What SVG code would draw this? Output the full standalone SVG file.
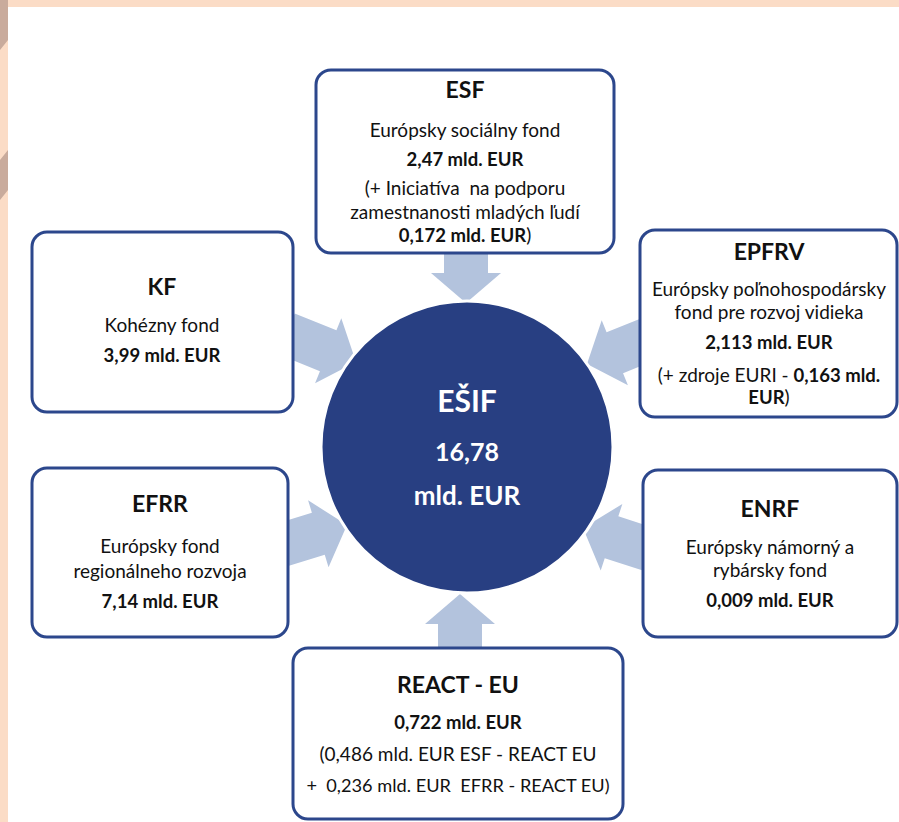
<svg xmlns="http://www.w3.org/2000/svg" width="899" height="822" viewBox="0 0 899 822">
<defs>
<style>
.box{fill:#ffffff;stroke:#2c478c;stroke-width:3}
.arr{fill:#b3c3dd}
text{font-family:Lato,"Liberation Sans",sans-serif;fill:#111111;text-anchor:middle}
.t{font-size:23px;font-weight:bold}
.b{font-size:19px}
.bb{font-size:18.5px;font-weight:bold}
.w{fill:#ffffff;font-weight:bold}
.pre{white-space:pre}
</style>
<polygon id="arrow" points="-75,-22 -30,-22 -30,-35 0,0 -30,35 -30,22 -75,22"/>
</defs>
<rect x="0" y="0" width="899" height="822" fill="#fbdcc6"/>
<path d="M0 0 L8 0 L8 40 L0 50 Z M0 160 L8 150 L8 190 L0 200 Z" fill="#c9ab9c"/>
<rect x="8" y="7" width="891" height="815" fill="#ffffff"/>
<g id="connectors">
<use href="#arrow" class="arr" transform="translate(466,303) rotate(90)"/>
<use href="#arrow" class="arr" transform="translate(460,594) rotate(-90)"/>
<use href="#arrow" class="arr" transform="translate(356,362) rotate(22)"/>
<use href="#arrow" class="arr" transform="translate(587,364) rotate(158)"/>
<use href="#arrow" class="arr" transform="translate(347,525) rotate(-17)"/>
<use href="#arrow" class="arr" transform="translate(583,528) rotate(198)"/>
</g>
<g id="esif">
<circle cx="467" cy="447" r="146" fill="#283f82" stroke="#ffffff" stroke-width="3"/>
<text x="467" y="412" class="w" style="font-size:30px">EŠIF</text>
<text x="467" y="461" class="w" style="font-size:25px">16,78</text>
<text x="467" y="505" class="w" style="font-size:26px">mld. EUR</text>
</g>
<g id="esf">
<rect x="316" y="70" width="298" height="183" rx="15" class="box"/>
<text x="465" y="98" class="t">ESF</text>
<text x="465" y="137" class="b">Európsky sociálny fond</text>
<text x="465" y="166" class="bb">2,47 mld. EUR</text>
<text x="465" y="195" class="b pre">(+ Iniciatíva  na podporu</text>
<text x="465" y="219" class="b">zamestnanosti mladých ľudí</text>
<text x="465" y="242" class="b"><tspan font-weight="bold" font-size="18.5">0,172 mld. EUR</tspan>)</text>
</g>
<g id="kf">
<rect x="32" y="232" width="261" height="180" rx="15" class="box"/>
<text x="162" y="295" class="t">KF</text>
<text x="162" y="332" class="b">Kohézny fond</text>
<text x="162" y="362" class="bb">3,99 mld. EUR</text>
</g>
<g id="epfrv">
<rect x="640" y="230" width="257" height="187" rx="15" class="box"/>
<text x="769" y="260" class="t">EPFRV</text>
<text x="769" y="296" class="b">Európsky poľnohospodársky</text>
<text x="769" y="319" class="b">fond pre rozvoj vidieka</text>
<text x="769" y="349" class="bb">2,113 mld. EUR</text>
<text x="769" y="382" class="b">(+ zdroje EURI - <tspan font-weight="bold" font-size="18.5">0,163 mld.</tspan></text>
<text x="769" y="404" class="b"><tspan font-weight="bold" font-size="18.5">EUR</tspan>)</text>
</g>
<g id="efrr">
<rect x="32" y="468" width="256" height="169" rx="15" class="box"/>
<text x="160" y="512" class="t">EFRR</text>
<text x="160" y="553" class="b">Európsky fond</text>
<text x="160" y="578" class="b">regionálneho rozvoja</text>
<text x="160" y="608" class="bb">7,14 mld. EUR</text>
</g>
<g id="enrf">
<rect x="643" y="470" width="254" height="167" rx="15" class="box"/>
<text x="770" y="517" class="t">ENRF</text>
<text x="770" y="554" class="b">Európsky námorný a</text>
<text x="770" y="577" class="b">rybársky fond</text>
<text x="770" y="607" class="bb">0,009 mld. EUR</text>
</g>
<g id="react">
<rect x="293" y="648" width="330" height="171" rx="15" class="box"/>
<text x="458" y="693" class="t">REACT - EU</text>
<text x="458" y="729" class="bb">0,722 mld. EUR</text>
<text x="458" y="761" class="b">(0,486 mld. EUR ESF - REACT EU</text>
<text x="458" y="792" class="b pre" style="font-size:18.2px">+  0,236 mld. EUR  EFRR - REACT EU)</text>
</g>
</svg>
